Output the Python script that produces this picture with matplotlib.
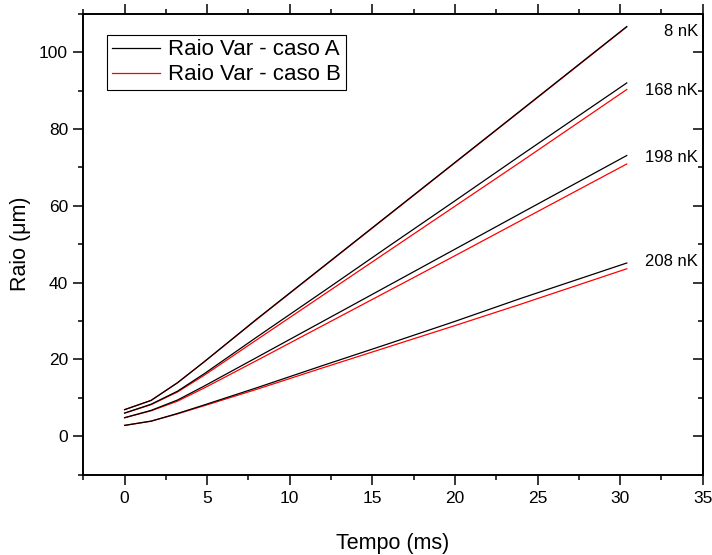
import matplotlib
matplotlib.use("Agg")
from matplotlib import pyplot as plt
from matplotlib.ticker import MultipleLocator

plt.rcParams['font.family'] = ['Liberation Sans', 'DejaVu Sans']

# tempo (ms)
tempo = [0, 1.6, 3.2, 4.8, 8, 12, 16, 20, 24, 30.4]

# raio (um), caso A
caso_a = {
    '8 nK':   [6.9, 9.3, 13.9, 19.3, 30.5, 44.1, 57.7, 71.3, 84.9, 106.7],
    '168 nK': [6.0, 8.3, 11.7, 16.2, 25.8, 37.6, 49.5, 61.3, 73.2, 92.0],
    '198 nK': [4.8, 6.7, 9.4, 13.0, 20.5, 29.9, 39.3, 48.7, 58.1, 73.1],
    '208 nK': [2.8, 3.9, 5.9, 8.1, 12.6, 18.4, 24.1, 29.9, 35.9, 45.1],
}
# raio (um), caso B
caso_b = {
    '8 nK':   [6.9, 9.3, 13.9, 19.3, 30.4, 44.0, 57.6, 71.2, 84.8, 106.6],
    '168 nK': [6.0, 8.2, 11.5, 15.8, 25.1, 36.7, 48.3, 59.9, 71.5, 90.3],
    '198 nK': [4.8, 6.6, 9.1, 12.5, 19.7, 28.8, 37.9, 47.0, 56.2, 70.9],
    '208 nK': [2.8, 3.9, 5.8, 7.9, 12.2, 17.8, 23.3, 28.8, 34.4, 43.6],
}
label_y = {'8 nK': 105.4, '168 nK': 90.0, '198 nK': 72.5, '208 nK': 45.5}

fig = plt.figure(figsize=(7.12, 5.55), dpi=100)
ax = fig.add_axes([0.117, 0.145, 0.870, 0.830])

first = True
for temp in caso_a:
    ax.plot(tempo, caso_b[temp], color='#ff0000', lw=0.9,
            label='Raio Var - caso B' if first else None)
    ax.plot(tempo, caso_a[temp], color='black', lw=0.9,
            label='Raio Var - caso A' if first else None)
    ax.text(34.7, label_y[temp], temp, ha='right', va='center', fontsize=12)
    first = False

ax.set_xlim(-2.5, 35)
ax.set_ylim(-10, 110)
ax.xaxis.set_major_locator(MultipleLocator(5))
ax.xaxis.set_minor_locator(MultipleLocator(2.5))
ax.yaxis.set_major_locator(MultipleLocator(20))
ax.yaxis.set_minor_locator(MultipleLocator(10))

for s in ax.spines.values():
    s.set_linewidth(1.4)

ax.tick_params(axis='x', which='both', direction='out', top=True, bottom=True,
               width=1.1, labelsize=12.5, pad=5)
ax.tick_params(axis='y', which='both', direction='out', left=True, right=False,
               width=1.1, labelsize=12.5, pad=4)
ax.tick_params(which='major', length=7)
ax.tick_params(which='minor', length=3.7)

sec = ax.secondary_yaxis('right')
sec.yaxis.set_major_locator(MultipleLocator(20))
sec.yaxis.set_minor_locator(MultipleLocator(10))
sec.tick_params(which='both', direction='in', labelright=False, width=1.1)
sec.tick_params(which='major', length=7)
sec.tick_params(which='minor', length=3.7)
sec.spines['right'].set_linewidth(1.4)

ax.set_xlabel('Tempo (ms)', fontsize=15.5, labelpad=19)
ax.set_ylabel('Raio (μm)', fontsize=15.5, labelpad=6)

handles, labels = ax.get_legend_handles_labels()
leg = ax.legend(handles[::-1], labels[::-1], loc='upper left',
                bbox_to_anchor=(0.0377, 0.955), borderaxespad=0,
                fontsize=16, handlelength=2.2, handletextpad=0.35,
                labelspacing=0.18, borderpad=0.22, fancybox=False,
                edgecolor='black', framealpha=1)
leg.get_frame().set_linewidth(0.8)

fig.savefig('out.png', dpi=100)
